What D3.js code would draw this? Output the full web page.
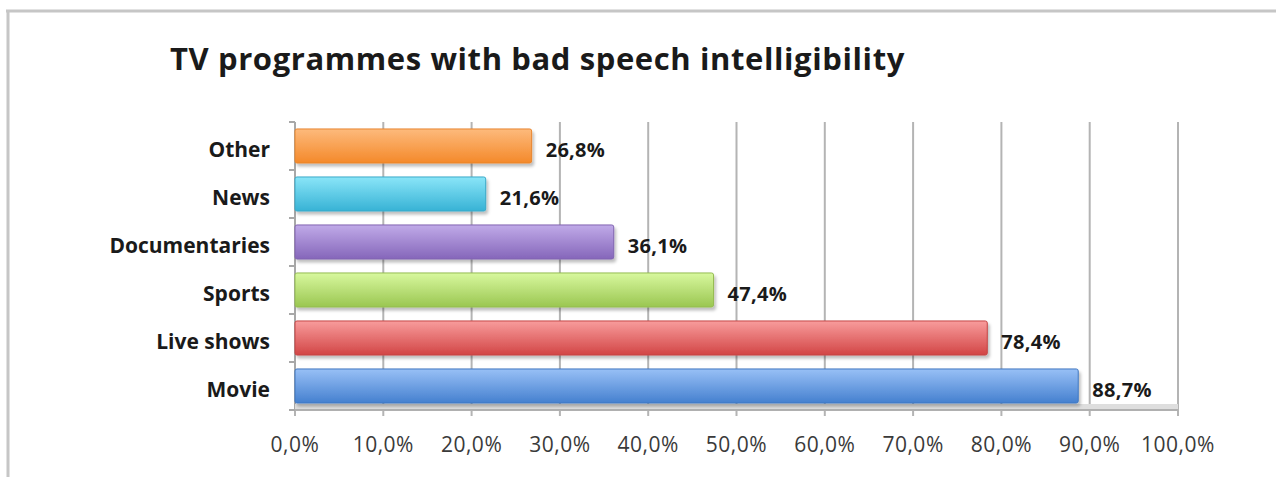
<!DOCTYPE html>
<html>
<head>
<meta charset="utf-8">
<script src="https://cdn.jsdelivr.net/npm/d3@7"></script>
<style>
  html, body { margin: 0; padding: 0; background: #fff; }
  svg { display: block; }
  .cat { font-family: "Open Sans", Lato, sans-serif; font-weight: bold; fill: #1a1a1a; }
  .val { font-family: "Open Sans", Lato, sans-serif; font-weight: bold; fill: #1a1a1a; }
  .tick-label { font-family: "Open Sans", Lato, sans-serif; fill: #3a3a3a; }
</style>
</head>
<body>
<div id="chart"></div>
<script>
  // data, top to bottom as drawn
  const categories = ['Other', 'News', 'Documentaries', 'Sports', 'Live shows', 'Movie']
  const values = [0.268, 0.216, 0.361, 0.474, 0.784, 0.887]
  const xTicks = [0, 0.1, 0.2, 0.3, 0.4, 0.5, 0.6, 0.7, 0.8, 0.9, 1.0]
  const topColors = ['#fdba7c', '#8ae5f8', '#c0aae8', '#d8f89e', '#f89c9c', '#98c0f6']
  const bottomColors = ['#f4892a', '#37b2d5', '#8566ba', '#9ac651', '#d24545', '#4580cf']
  const edgeColors = ['#e8852e', '#3aa9c8', '#8064b0', '#94bb52', '#c44444', '#3f76c0']

  const width = 1276
  const height = 477
  const title = 'TV programmes with bad speech intelligibility'

  const svg = d3.select('#chart')
    .append('svg')
    .attr('width', width)
    .attr('height', height)

  // drop shadow for bars
  const defs = svg.append('defs')
  const shadow = defs.append('filter')
    .attr('id', 'shadow')
    .attr('x', '-5%').attr('y', '-20%')
    .attr('width', '110%').attr('height', '160%')
  shadow.append('feDropShadow')
    .attr('dx', 2).attr('dy', 3)
    .attr('stdDeviation', 1.5)
    .attr('flood-color', '#000')
    .attr('flood-opacity', 0.25)

  categories.forEach((c, i) => {
    let g = defs.append('linearGradient')
      .attr('id', `grad${i}`)
      .attr('x1', 0).attr('y1', 0).attr('x2', 0).attr('y2', 1)
    g.append('stop').attr('offset', '0%').attr('stop-color', topColors[i])
    g.append('stop').attr('offset', '100%').attr('stop-color', bottomColors[i])
  })

  // outer frame (only top and left edges are visible)
  svg.append('line')
    .attr('x1', 6).attr('x2', width).attr('y1', 11).attr('y2', 11)
    .attr('stroke', '#c6c6c6').attr('stroke-width', 3)
  svg.append('line')
    .attr('x1', 8).attr('x2', 8).attr('y1', 10).attr('y2', height)
    .attr('stroke', '#c6c6c6').attr('stroke-width', 3)

  svg.append('text')
    .attr('x', 170)
    .attr('y', 70)
    .attr('class', 'cat')
    .style('font-size', '31px')
    .style('letter-spacing', '0.6px')
    .text(title)

  const x = d3.scaleLinear()
    .domain([0, 1])
    .range([295, 1178])

  const y = d3.scaleBand()
    .domain(categories)
    .range([122, 410])
    .paddingInner(0.29)
    .paddingOuter(0.145)

  const fmt = d3.formatLocale({ decimal: ',', thousands: '.', grouping: [3], currency: ['', '€'] }).format('.1%')

  // vertical gridlines
  svg.append('g')
    .selectAll('line')
    .data(xTicks)
    .enter().append('line')
    .attr('x1', d => x(d)).attr('x2', d => x(d))
    .attr('y1', 122).attr('y2', 416)
    .attr('stroke', '#b4b4b4')
    .attr('stroke-width', 2)

  // left axis line and category ticks
  svg.append('line')
    .attr('x1', x(0)).attr('x2', x(0))
    .attr('y1', 122).attr('y2', 410)
    .attr('stroke', '#a8a8a8').attr('stroke-width', 2)

  let bounds = categories.map(c => y(c) - y.step() * y.paddingInner() / 2)
  bounds.push(410)
  svg.append('g')
    .selectAll('line')
    .data(bounds)
    .enter().append('line')
    .attr('x1', 289).attr('x2', x(0))
    .attr('y1', d => d).attr('y2', d => d)
    .attr('stroke', '#a8a8a8').attr('stroke-width', 2)

  // floor
  svg.append('rect')
    .attr('x', x(0)).attr('y', 404)
    .attr('width', x(1) - x(0)).attr('height', 6)
    .attr('fill', '#dedede')
  svg.append('line')
    .attr('x1', x(0)).attr('x2', x(1))
    .attr('y1', 410).attr('y2', 410)
    .attr('stroke', '#b0b0b0').attr('stroke-width', 2)

  // bars
  svg.append('g')
    .selectAll('rect')
    .data(values)
    .enter().append('rect')
    .attr('x', x(0))
    .attr('y', (d, i) => y(categories[i]))
    .attr('width', d => x(d) - x(0))
    .attr('height', y.bandwidth())
    .attr('rx', 2)
    .attr('fill', (d, i) => `url(#grad${i})`)
    .attr('stroke', (d, i) => edgeColors[i])
    .attr('stroke-width', 1)
    .attr('filter', 'url(#shadow)')

  // value labels
  svg.append('g')
    .selectAll('text')
    .data(values)
    .enter().append('text')
    .attr('class', 'val')
    .attr('x', d => x(d) + 14)
    .attr('y', (d, i) => y(categories[i]) + y.bandwidth() / 2 + 11)
    .style('font-size', '20px')
    .style('letter-spacing', '0.3px')
    .text(d => fmt(d))

  // category labels
  svg.append('g')
    .selectAll('text')
    .data(categories)
    .enter().append('text')
    .attr('class', 'cat')
    .attr('x', 270)
    .attr('y', d => y(d) + y.bandwidth() / 2 + 11)
    .attr('text-anchor', 'end')
    .style('font-size', '21px')
    .text(d => d)

  // x tick labels
  svg.append('g')
    .selectAll('text')
    .data(xTicks)
    .enter().append('text')
    .attr('class', 'tick-label')
    .attr('x', d => x(d))
    .attr('y', 452)
    .attr('text-anchor', 'middle')
    .style('font-size', '21px')
    .style('letter-spacing', '0.5px')
    .text(d => fmt(d))
</script>
</body>
</html>
